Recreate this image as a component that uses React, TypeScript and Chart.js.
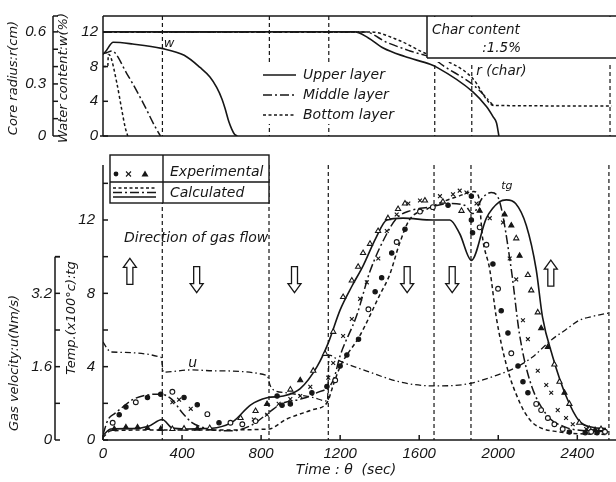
import React, { useEffect, useRef } from 'react';
import { Chart, registerables } from 'chart.js';

Chart.register(...registerables);

type Pt = [number, number];

// ---------------- shared time axis ----------------
const TIME_MAX = 2570;
const TIME_TICKS = [0, 400, 800, 1200, 1600, 2000, 2400];
const EVENT_TIMES = [300, 840, 1140, 1675, 1862, 2560];

// ---------------- top panel (water content / core radius) ----------------
const W_MAX = 13.83;
const W_TICKS = [0, 4, 8, 12];
const R_MAX = 0.6915;
const R_TICKS = [0, 0.3, 0.6];
const R_MINOR = [0, 0.1, 0.2, 0.3, 0.4, 0.5, 0.6];

const wUpper: Pt[] = [[0, 9.4], [12, 9.7], [52, 10.8], [150, 10.6], [296, 10.1], [410, 9.3], [490, 7.9], [540, 6.8], [574, 5.6], [600, 4.3], [616, 3.2], [636, 1.6], [650, 0.8], [664, 0.2], [678, 0]];
const wMiddle: Pt[] = [[0, 9.5], [19, 9.6], [44, 9.8], [120, 7.2], [203, 3.8], [260, 1.2], [290, 0]];
const wBottom: Pt[] = [[0, 8.0], [24, 8.0], [27, 9.4], [35, 9.3], [69, 6.2], [95, 3.0], [112, 1.0], [125, 0]];

const rUpper: Pt[] = [[0, 0.6], [1272, 0.6], [1340, 0.565], [1415, 0.507], [1524, 0.458], [1652, 0.413], [1684, 0.397], [1869, 0.253], [1937, 0.168], [1970, 0.11], [1987, 0.075], [1999, 0]];
const rMiddle: Pt[] = [[0, 0.6], [1322, 0.6], [1432, 0.54], [1550, 0.49], [1667, 0.447], [1718, 0.405], [1869, 0.295], [1937, 0.219], [1970, 0.176]];
const rBottom: Pt[] = [[0, 0.6], [1348, 0.6], [1499, 0.549], [1634, 0.473], [1684, 0.456], [1869, 0.329], [1937, 0.21], [1970, 0.176], [2568, 0.173]];

// ---------------- bottom panel (gas temperature / velocity) ----------------
const T_MAX = 15;
const T_TICKS = [0, 4, 8, 12];
const T_MINOR = [0, 2, 4, 6, 8, 10, 12, 14];
const U_MAX = 6;
const U_TICKS = [0, 1.6, 3.2];
const U_MINOR = [0, 0.8, 1.6, 2.4, 3.2, 4.0];

const tgUpper: Pt[] = [[0, 0.26], [40, 0.6], [150, 0.62], [230, 0.75], [300, 1.12], [350, 0.66], [420, 0.6], [500, 0.62], [575, 0.67], [661, 1.03], [746, 1.9], [830, 2.3], [913, 2.4], [998, 2.8], [1083, 4.0], [1140, 5.3], [1200, 7.1], [1260, 8.4], [1316, 9.5], [1380, 11.0], [1436, 12.0], [1518, 12.1], [1669, 12.0], [1755, 12.0], [1805, 11.25], [1864, 9.8], [1940, 12.1], [2007, 13.0], [2041, 13.1], [2088, 12.9], [2142, 11.7], [2192, 9.3], [2224, 6.7], [2274, 4.6], [2343, 2.4], [2410, 1.03], [2476, 0.69], [2545, 0.62]];
const tgMiddle: Pt[] = [[0, 0.3], [25, 1.1], [60, 1.45], [100, 1.8], [150, 2.2], [220, 2.45], [292, 2.5], [350, 2.2], [400, 1.5], [450, 0.95], [500, 0.7], [550, 0.55], [650, 0.5], [750, 0.8], [840, 1.5], [900, 1.97], [1000, 2.23], [1083, 2.58], [1165, 3.26], [1200, 4.6], [1284, 6.8], [1351, 9.2], [1436, 11.25], [1486, 12.1], [1553, 12.5], [1650, 12.7], [1750, 12.9], [1830, 12.8], [1870, 12.35], [1920, 13.2], [1965, 13.5], [2007, 13.0], [2066, 9.3], [2107, 5.8], [2158, 3.3], [2243, 1.4], [2343, 0.69], [2450, 0.5], [2560, 0.45]];
const tgBottom: Pt[] = [[0, 0.15], [40, 0.5], [300, 0.55], [600, 0.55], [840, 0.6], [927, 1.13], [1060, 1.65], [1135, 2.06], [1165, 3.0], [1200, 4.0], [1300, 5.7], [1400, 7.9], [1450, 9.0], [1500, 10.7], [1550, 12.0], [1640, 12.6], [1720, 13.0], [1800, 13.3], [1875, 13.55], [1900, 13.3], [1921, 11.0], [1957, 9.3], [1990, 6.7], [2041, 4.1], [2108, 2.06], [2160, 1.1], [2209, 0.69], [2300, 0.45], [2375, 0.36], [2560, 0.3]];
const uGas: Pt[] = [[0, 2.14], [20, 2.0], [40, 1.92], [295, 1.8], [305, 1.48], [450, 1.53], [560, 1.51], [830, 1.41], [845, 1.2], [860, 1.1], [930, 1.03], [1060, 0.93], [1135, 0.85], [1145, 1.85], [1200, 1.72], [1331, 1.51], [1499, 1.27], [1670, 1.18], [1840, 1.22], [1950, 1.35], [2088, 1.58], [2170, 1.8], [2273, 2.2], [2340, 2.4], [2409, 2.61], [2480, 2.7], [2570, 2.78]];

const expCircleFilled: Pt[] = [[82, 1.38], [116, 1.8], [225, 2.32], [292, 2.49], [410, 2.32], [477, 1.92], [587, 0.94], [881, 2.4], [906, 1.89], [948, 1.97], [1057, 2.58], [1133, 2.92], [1200, 4.04], [1234, 4.64], [1293, 5.5], [1377, 8.08], [1410, 8.85], [1461, 10.2], [1528, 11.5], [1746, 12.8], [1864, 13.3], [1864, 12.0], [1870, 11.3], [1973, 9.6], [2015, 7.05], [2049, 5.84], [2100, 4.04], [2125, 3.18], [2150, 2.58], [2360, 0.43], [2440, 0.4], [2500, 0.4]];
const expCircleOpen: Pt[] = [[49, 0.94], [166, 2.06], [351, 2.63], [528, 1.41], [645, 0.94], [705, 0.86], [772, 1.03], [1175, 3.26], [1343, 7.13], [1486, 10.8], [1604, 12.46], [1669, 12.7], [1906, 11.6], [1940, 10.65], [1999, 8.25], [2066, 4.73], [2192, 1.97], [2217, 1.63], [2251, 1.2], [2284, 0.86], [2326, 0.6], [2470, 0.45], [2540, 0.45]];
const expCross: Pt[] = [[351, 2.06], [385, 2.2], [444, 1.7], [763, 1.12], [830, 1.38], [889, 1.97], [948, 2.23], [998, 2.4], [1049, 2.9], [1140, 3.4], [1165, 4.2], [1215, 5.67], [1259, 6.6], [1301, 7.7], [1335, 8.6], [1393, 9.9], [1436, 11.4], [1486, 12.3], [1545, 12.9], [1604, 13.06], [1705, 13.3], [1771, 13.4], [1805, 13.6], [1839, 13.5], [1890, 12.9], [1957, 12.1], [2024, 11.86], [2058, 9.9], [2091, 8.76], [2125, 6.53], [2150, 5.5], [2200, 3.78], [2243, 3.0], [2268, 2.58], [2301, 1.63], [2343, 1.2], [2377, 0.86], [2445, 0.6], [2500, 0.5]];
const expTriFilled: Pt[] = [[57, 0.6], [116, 0.69], [175, 0.69], [225, 0.65], [292, 0.6], [477, 0.62], [830, 1.97], [998, 3.26], [1906, 12.5], [2032, 12.3], [2066, 11.7], [2108, 10.05], [2217, 6.1], [2251, 5.07], [2335, 2.58], [2490, 0.55]];
const expTriOpen: Pt[] = [[351, 0.6], [410, 0.62], [540, 0.65], [696, 1.2], [772, 1.58], [948, 2.75], [1064, 3.78], [1124, 4.7], [1165, 5.9], [1215, 7.8], [1259, 8.7], [1291, 9.45], [1316, 10.2], [1351, 10.7], [1392, 11.4], [1442, 12.1], [1493, 12.6], [1528, 12.9], [1629, 13.06], [1720, 13.0], [1814, 12.5], [2091, 11.0], [2150, 9.0], [2167, 8.16], [2200, 6.96], [2284, 4.12], [2310, 3.18], [2360, 1.97], [2410, 0.94], [2461, 0.6], [2520, 0.6]];

// flow-direction arrows (time, temperature position, direction)
const FLOW_ARROW_T = [136, 474, 969, 1539, 1767, 2266];
const FLOW_ARROW_TG = [9.2, 8.75, 8.75, 8.75, 8.75, 9.1];
const FLOW_ARROW_DIR = ['up', 'down', 'down', 'down', 'down', 'up'];

// ---------------- styling ----------------
const INK = '#161616';
const SANS = '"DejaVu Sans", sans-serif';
const TICK_FONT = { family: '"Liberation Sans", sans-serif', size: 15, style: 'italic' as const };
const DASHDOT = [9, 3, 2, 3];
const DOTTED = [3, 2.5];
const DASHED = [4, 3];
const U_DASH = [6, 3, 1.5, 3];
const BOTTOM_TOP = 148;

const toXY = (d: Pt[]) => d.map(([x, y]) => ({ x, y }));

function lineDs(data: Pt[], yAxisID: string, dash: number[], width = 1.5) {
  return {
    data: toXY(data), yAxisID, showLine: true, borderColor: INK, borderWidth: width,
    borderDash: dash, pointRadius: 0, tension: 0.4, cubicInterpolationMode: 'monotone', fill: false,
  };
}
function markDs(data: Pt[], style: string, filled: boolean, r: number) {
  return {
    data: toXY(data), yAxisID: 'yT', showLine: false, pointStyle: style, pointRadius: r,
    pointBackgroundColor: filled ? INK : '#fff', pointBorderColor: INK, pointBorderWidth: 1.1,
  };
}

function seg(ctx: CanvasRenderingContext2D, x1: number, y1: number, x2: number, y2: number) {
  ctx.beginPath(); ctx.moveTo(x1, y1); ctx.lineTo(x2, y2); ctx.stroke();
}
function text(ctx: CanvasRenderingContext2D, s: string, x: number, y: number, size: number,
  align: CanvasTextAlign = 'left', rot = 0) {
  ctx.save();
  ctx.translate(x, y);
  if (rot) ctx.rotate(rot);
  ctx.font = `italic ${size}px ${SANS}`;
  ctx.textAlign = align;
  ctx.textBaseline = 'middle';
  ctx.fillStyle = INK;
  ctx.fillText(s, 0, 0);
  ctx.restore();
}
function blockArrow(ctx: CanvasRenderingContext2D, cx: number, cy: number, dir: string) {
  const L = 26, hw = 6.5, sw = 3, hl = 9;
  const s = dir === 'up' ? -1 : 1;
  const tipY = cy + (s * L) / 2, baseY = cy - (s * L) / 2, neckY = tipY - s * hl;
  ctx.save();
  ctx.setLineDash([]);
  ctx.beginPath();
  ctx.moveTo(cx - sw, baseY);
  ctx.lineTo(cx - sw, neckY);
  ctx.lineTo(cx - hw, neckY);
  ctx.lineTo(cx, tipY);
  ctx.lineTo(cx + hw, neckY);
  ctx.lineTo(cx + sw, neckY);
  ctx.lineTo(cx + sw, baseY);
  ctx.closePath();
  ctx.fillStyle = '#fff';
  ctx.fill();
  ctx.lineWidth = 1.3;
  ctx.strokeStyle = INK;
  ctx.stroke();
  ctx.restore();
}

function drawEventLines(chart: any) {
  const { ctx, chartArea: ca, scales } = chart;
  ctx.save();
  ctx.strokeStyle = INK; ctx.lineWidth = 1.2; ctx.setLineDash([4, 3]);
  for (const t of EVENT_TIMES) {
    const px = scales.x.getPixelForValue(t);
    seg(ctx, px, ca.top, px, ca.bottom);
  }
  ctx.restore();
}

const topDeco = {
  id: 'topDeco',
  beforeDatasetsDraw(chart: any) { drawEventLines(chart); },
  afterDatasetsDraw(chart: any) {
    const { ctx, chartArea: ca, scales, width } = chart;
    const xs = scales.x, yW = scales.yW, yR = scales.yR;
    ctx.save();
    ctx.strokeStyle = INK; ctx.lineWidth = 1.5; ctx.setLineDash([]);
    seg(ctx, ca.left, ca.top, width, ca.top);
    seg(ctx, ca.left - 3, ca.bottom, width, ca.bottom);
    seg(ctx, ca.left, ca.top, ca.left, ca.bottom);
    for (const v of W_TICKS) { const py = yW.getPixelForValue(v); seg(ctx, ca.left, py, ca.left + 5, py); }
    const rx = yR.right;
    seg(ctx, rx, ca.top, rx, ca.bottom);
    seg(ctx, rx, ca.top, rx + 5, ca.top);
    for (const v of R_MINOR) { const py = yR.getPixelForValue(v); seg(ctx, rx, py, rx + 5, py); }

    // char content box
    ctx.fillStyle = '#fff';
    ctx.fillRect(427, ca.top + 1, width - 427, 45);
    seg(ctx, 427, ca.top, 427, 58);
    seg(ctx, 427, 58, width, 58);
    text(ctx, 'Char content', 432, 30, 13.5);
    text(ctx, ':1.5%', 521, 48, 13.5, 'right');

    // legend
    ctx.fillStyle = '#fff';
    ctx.fillRect(258, 64, 142, 60);
    ctx.lineWidth = 1.5;
    seg(ctx, 263, 75, 296, 75);
    ctx.setLineDash(DASHDOT); seg(ctx, 263, 95, 296, 95);
    ctx.setLineDash(DOTTED); seg(ctx, 263, 115, 296, 115);
    ctx.setLineDash([]);
    text(ctx, 'Upper layer', 303, 75, 14);
    text(ctx, 'Middle layer', 303, 95, 14);
    text(ctx, 'Bottom layer', 303, 115, 14);

    // curve labels
    text(ctx, 'w', xs.getPixelForValue(333), yW.getPixelForValue(10.7), 13, 'center');
    text(ctx, 'r (char)', xs.getPixelForValue(1885), yR.getPixelForValue(0.371), 13.5);

    // axis titles
    text(ctx, 'Core radius:r(cm)', 14, 78, 13, 'center', -Math.PI / 2);
    text(ctx, 'Water content:w(%)', 64, 78, 13, 'center', -Math.PI / 2);
    ctx.restore();
  },
};

const bottomDeco = {
  id: 'bottomDeco',
  beforeDatasetsDraw(chart: any) { drawEventLines(chart); },
  afterDatasetsDraw(chart: any) {
    const { ctx, chartArea: ca, scales, width } = chart;
    const xs = scales.x, yT = scales.yT, yU = scales.yU;
    const g = (y: number) => y - BOTTOM_TOP;
    ctx.save();
    ctx.strokeStyle = INK; ctx.lineWidth = 1.5; ctx.setLineDash([]);
    seg(ctx, ca.left, ca.bottom, width, ca.bottom);
    seg(ctx, ca.left, ca.top, ca.left, ca.bottom);
    for (const t of TIME_TICKS) { const px = xs.getPixelForValue(t); seg(ctx, px, ca.bottom, px, ca.bottom - 5); }
    for (const v of T_MINOR) { const py = yT.getPixelForValue(v); seg(ctx, ca.left, py, ca.left + 5, py); }
    const ux = yU.right;
    const uTop = yU.getPixelForValue(U_MINOR[U_MINOR.length - 1]);
    seg(ctx, ux, uTop, ux, ca.bottom);
    seg(ctx, ux, uTop, ux + 5, uTop);
    for (const v of U_MINOR) { const py = yU.getPixelForValue(v); seg(ctx, ux, py, ux + 5, py); }

    // legend box
    ctx.fillStyle = '#fff';
    ctx.fillRect(110, g(155), 159, 48);
    ctx.lineWidth = 1.4;
    ctx.strokeRect(110, g(155), 159, 48);
    seg(ctx, 163, g(155), 163, g(203));
    seg(ctx, 110, g(182), 269, g(182));
    ctx.fillStyle = INK;
    ctx.beginPath(); ctx.arc(116, g(174), 2.4, 0, Math.PI * 2); ctx.fill();
    ctx.lineWidth = 1.1;
    seg(ctx, 126, g(171.5), 131, g(176.5)); seg(ctx, 131, g(171.5), 126, g(176.5));
    ctx.beginPath(); ctx.moveTo(145, g(170.5)); ctx.lineTo(148.5, g(176.5)); ctx.lineTo(141.5, g(176.5)); ctx.closePath(); ctx.fill();
    ctx.lineWidth = 1.3;
    ctx.setLineDash(DOTTED); seg(ctx, 113, g(188), 156, g(188));
    ctx.setLineDash(DASHDOT); seg(ctx, 113, g(192.5), 156, g(192.5));
    ctx.setLineDash([]); seg(ctx, 113, g(197), 156, g(197));
    text(ctx, 'Experimental', 170, g(172), 14);
    text(ctx, 'Calculated', 170, g(193), 14);

    // flow direction
    text(ctx, 'Direction of gas flow', 124, g(238), 14);
    FLOW_ARROW_T.forEach((t, i) => {
      blockArrow(ctx, xs.getPixelForValue(t), yT.getPixelForValue(FLOW_ARROW_TG[i]), FLOW_ARROW_DIR[i]);
    });

    // curve labels
    text(ctx, 'u', xs.getPixelForValue(454), yU.getPixelForValue(1.68), 14, 'center');
    text(ctx, 'tg', xs.getPixelForValue(2044), yT.getPixelForValue(13.85), 11, 'center');

    // axis titles
    text(ctx, 'Temp.(x100°c):tg', 72, g(318), 13, 'center', -Math.PI / 2);
    text(ctx, 'Gas velocity:u(Nm/s)', 15, g(363), 13, 'center', -Math.PI / 2);
    text(ctx, 'Time : θ  (sec)', 346, g(470), 14, 'center');
    ctx.restore();
  },
};

function yAxis(min: number, max: number, ticks: number[], weight: number, w: number, pad: number) {
  return {
    type: 'linear', position: 'left', min, max, weight,
    grid: { display: false, drawTicks: false }, border: { display: false },
    afterBuildTicks: (s: any) => { s.ticks = ticks.map((v) => ({ value: v })); },
    ticks: { font: TICK_FONT, color: INK, padding: pad, callback: (v: any) => String(v) },
    afterFit: (s: any) => { s.width = w; },
  };
}

export default function App() {
  const topRef = useRef<HTMLCanvasElement>(null);
  const botRef = useRef<HTMLCanvasElement>(null);

  useEffect(() => {
    const common = {
      responsive: false, animation: false, events: [],
      plugins: { legend: { display: false }, tooltip: { enabled: false } },
    };
    const top = new Chart(topRef.current as HTMLCanvasElement, {
      type: 'scatter',
      data: {
        datasets: [
          lineDs(rUpper, 'yR', [], 1.6), lineDs(wUpper, 'yW', [], 1.6),
          lineDs(rMiddle, 'yR', DASHDOT), lineDs(wMiddle, 'yW', DASHDOT),
          lineDs(rBottom, 'yR', DOTTED), lineDs(wBottom, 'yW', DOTTED),
        ] as any,
      },
      options: {
        ...common,
        layout: { padding: { top: 12, bottom: 4, left: 0, right: 4 } },
        scales: {
          x: { type: 'linear', display: false, min: 0, max: TIME_MAX },
          yW: yAxis(0, W_MAX, W_TICKS, 1, 50, 5),
          yR: yAxis(0, R_MAX, R_TICKS, 2, 53, 7),
        },
      } as any,
      plugins: [topDeco],
    });
    const bottom = new Chart(botRef.current as HTMLCanvasElement, {
      type: 'scatter',
      data: {
        datasets: [
          markDs(expCircleFilled, 'circle', true, 2.2),
          markDs(expCircleOpen, 'circle', false, 2.4),
          markDs(expCross, 'crossRot', false, 2.7),
          markDs(expTriFilled, 'triangle', true, 2.9),
          markDs(expTriOpen, 'triangle', false, 3.0),
          lineDs(tgUpper, 'yT', [], 1.6),
          lineDs(tgMiddle, 'yT', DASHDOT),
          lineDs(tgBottom, 'yT', DASHED),
          lineDs(uGas, 'yU', U_DASH, 1.3),
        ] as any,
      },
      options: {
        ...common,
        layout: { padding: { top: 0.7, bottom: 0, left: 0, right: 4 } },
        scales: {
          x: {
            type: 'linear', position: 'bottom', min: 0, max: TIME_MAX,
            grid: { display: false, drawTicks: false }, border: { display: false },
            afterBuildTicks: (s: any) => { s.ticks = TIME_TICKS.map((v) => ({ value: v })); },
            ticks: { font: TICK_FONT, color: INK, padding: 5, maxRotation: 0, autoSkip: false, callback: (v: any) => String(v) },
            afterFit: (s: any) => { s.height = 42; },
          },
          yT: yAxis(0, T_MAX, T_TICKS, 1, 48, 8),
          yU: yAxis(0, U_MAX, U_TICKS, 2, 55, 3),
        },
      } as any,
      plugins: [bottomDeco],
    });
    return () => { top.destroy(); bottom.destroy(); };
  }, []);

  return (
    <div style={{ position: 'absolute', left: 0, top: 0, width: 616, height: 482, background: '#fff' }}>
      <canvas ref={topRef} width={616} height={152} style={{ position: 'absolute', left: 0, top: 0 }} />
      <canvas ref={botRef} width={616} height={334} style={{ position: 'absolute', left: 0, top: BOTTOM_TOP }} />
    </div>
  );
}
